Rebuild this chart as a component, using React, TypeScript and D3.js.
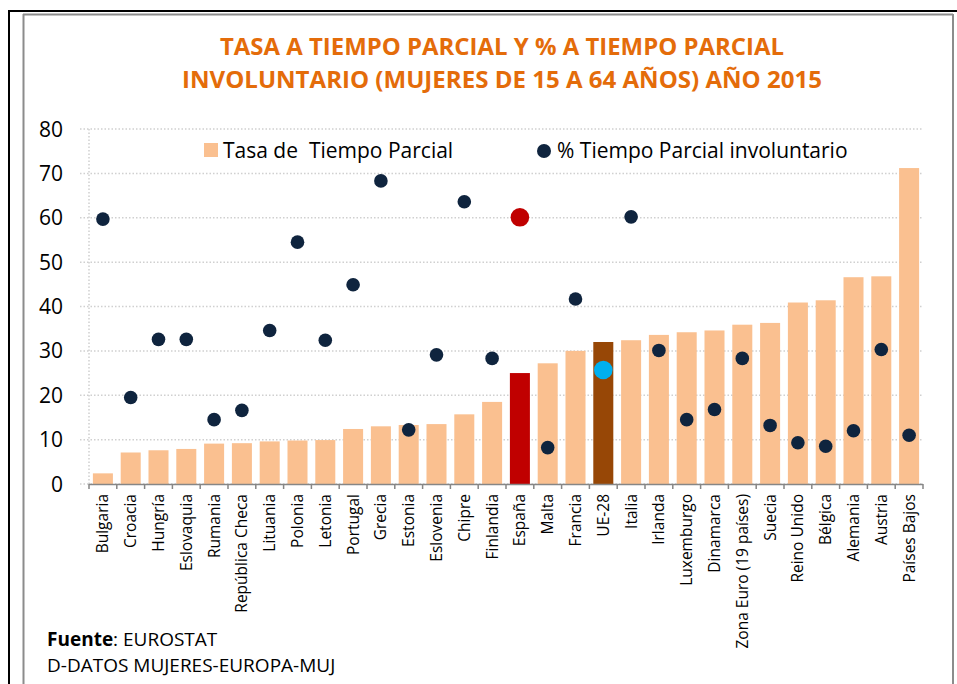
import React from "react";
import * as d3 from "d3";

const categories = [
  "Bulgaria", "Croacia", "Hungría", "Eslovaquia", "Rumania", "República Checa",
  "Lituania", "Polonia", "Letonia", "Portugal", "Grecia", "Estonia", "Eslovenia",
  "Chipre", "Finlandia", "España", "Malta", "Francia", "UE-28", "Italia", "Irlanda",
  "Luxemburgo", "Dinamarca", "Zona Euro (19 países)", "Suecia", "Reino Unido",
  "Bélgica", "Alemania", "Austria", "Países Bajos",
];

const tasaParcial = [
  2.4, 7.1, 7.6, 7.9, 9.1, 9.2, 9.6, 9.8, 9.9, 12.4, 13.0, 13.3, 13.5, 15.7, 18.5,
  25.0, 27.2, 30.0, 32.0, 32.4, 33.6, 34.2, 34.6, 35.9, 36.3, 40.9, 41.4, 46.6, 46.8, 71.2,
];

const involuntario = [
  59.7, 19.5, 32.6, 32.6, 14.5, 16.6, 34.6, 54.5, 32.4, 44.9, 68.3, 12.2, 29.1,
  63.6, 28.3, 60.1, 8.2, 41.7, 25.7, 60.2, 30.1, 14.5, 16.8, 28.3, 13.2, 9.3, 8.5,
  12.0, 30.3, 11.0,
];

const yTicks = [0, 10, 20, 30, 40, 50, 60, 70, 80];

const titleLines = [
  "TASA A TIEMPO PARCIAL Y % A TIEMPO PARCIAL",
  "INVOLUNTARIO (MUJERES DE 15 A 64 AÑOS) AÑO 2015",
];

const legendLabels = ["Tasa de  Tiempo Parcial", "% Tiempo Parcial involuntario"];

const FONT = "'Open Sans', 'Noto Sans', sans-serif";
const BAR = "#FAC090";
const DOT = "#0F243E";
const SPAIN = "#C00000";
const EU_BAR = "#974706";
const EU_DOT = "#00B0F0";

export default function App() {
  const W = 957;
  const H = 684;
  const left = 89;
  const right = 923;
  const top = 129;
  const bottom = 484;

  const x = d3.scaleBand<string>().domain(categories).range([left, right]).paddingInner(0.28).paddingOuter(0.14);
  const xb = d3.scaleBand<string>().domain(categories).range([left, right]);
  const y = d3.scaleLinear().domain([0, 80]).range([bottom, top]);

  const barColor = (c: string) => (c === "España" ? SPAIN : c === "UE-28" ? EU_BAR : BAR);
  const dotColor = (c: string) => (c === "España" ? SPAIN : c === "UE-28" ? EU_DOT : DOT);
  const dotR = (c: string) => (c === "España" || c === "UE-28" ? 9.3 : 6.8);

  const tickXs = categories.map((c) => xb(c)!).concat([right]);

  return (
    <svg
      width={W}
      height={H}
      style={{ position: "absolute", left: 0, top: 0, background: "#fff" }}
      fontFamily={FONT}
    >
      <rect x={0} y={0} width={W} height={H} fill="#fff" />
      {/* outer black frame */}
      <line x1={9} y1={11} x2={W} y2={11} stroke="#000" strokeWidth={2} />
      <line x1={9} y1={10} x2={9} y2={H} stroke="#000" strokeWidth={2} />
      {/* inner grey frame */}
      <line x1={23} y1={14.5} x2={953} y2={14.5} stroke="#8C8C8C" strokeWidth={2} />
      <line x1={23.5} y1={14} x2={23.5} y2={H} stroke="#8C8C8C" strokeWidth={2} />
      <line x1={953} y1={14} x2={953} y2={H} stroke="#8C8C8C" strokeWidth={2} />

      {/* title */}
      {titleLines.map((t, i) => (
        <text
          key={t}
          x={502}
          y={55 + i * 33}
          textAnchor="middle"
          fontWeight="bold"
          fontSize={23}
          fill="#E46C0A"
          textLength={i === 0 ? 564 : 640}
          lengthAdjust="spacingAndGlyphs"
        >
          {t}
        </text>
      ))}

      {/* gridlines */}
      {yTicks.map((v) => (
        <line
          key={v}
          x1={80}
          x2={right}
          y1={y(v)}
          y2={y(v)}
          stroke="#D0D0D0"
          strokeWidth={1.5}
          strokeDasharray="1.5 2"
        />
      ))}
      <line x1={left} x2={left} y1={top} y2={bottom} stroke="#D0D0D0" strokeWidth={1.5} strokeDasharray="1.5 2" />

      {/* y labels */}
      {yTicks.map((v) => (
        <text key={v} x={63} y={y(v) + 7.5} textAnchor="end" fontSize={21} fill="#000">
          {v}
        </text>
      ))}

      {/* bars */}
      {categories.map((c, i) => (
        <rect
          key={c}
          x={x(c)!}
          y={y(tasaParcial[i])}
          width={x.bandwidth()}
          height={bottom - y(tasaParcial[i])}
          fill={barColor(c)}
        />
      ))}

      {/* x axis */}
      <line x1={left} x2={right} y1={bottom + 0.5} y2={bottom + 0.5} stroke="#868686" strokeWidth={1.5} />
      {tickXs.map((tx, i) => (
        <line key={i} x1={tx} x2={tx} y1={bottom} y2={bottom + 5} stroke="#868686" strokeWidth={1.5} />
      ))}

      {/* dots */}
      {categories.map((c, i) => (
        <circle
          key={c}
          cx={xb(c)! + xb.bandwidth() / 2}
          cy={y(involuntario[i])}
          r={dotR(c)}
          fill={dotColor(c)}
        />
      ))}

      {/* x labels */}
      {categories.map((c) => {
        const cx = xb(c)! + xb.bandwidth() / 2;
        return (
          <text
            key={c}
            transform={`translate(${cx + 5.5},${bottom + 10}) rotate(-90)`}
            textAnchor="end"
            fontSize={15.5}
            fill="#000"
          >
            {c}
          </text>
        );
      })}

      {/* legend */}
      <rect x={204} y={143} width={14} height={14} fill={BAR} />
      <text x={223} y={158} fontSize={21} fill="#000" style={{ whiteSpace: "pre" }}>
        {legendLabels[0]}
      </text>
      <circle cx={544} cy={151} r={7} fill={DOT} />
      <text x={557} y={158} fontSize={21} fill="#000">
        {legendLabels[1]}
      </text>

      {/* footer */}
      <text x={47} y={646} fontSize={19} fill="#000">
        <tspan fontWeight="bold">Fuente</tspan>
        <tspan>: EUROSTAT</tspan>
      </text>
      <text x={47} y={672} fontSize={19} fill="#000">
        D-DATOS MUJERES-EUROPA-MUJ
      </text>
    </svg>
  );
}
